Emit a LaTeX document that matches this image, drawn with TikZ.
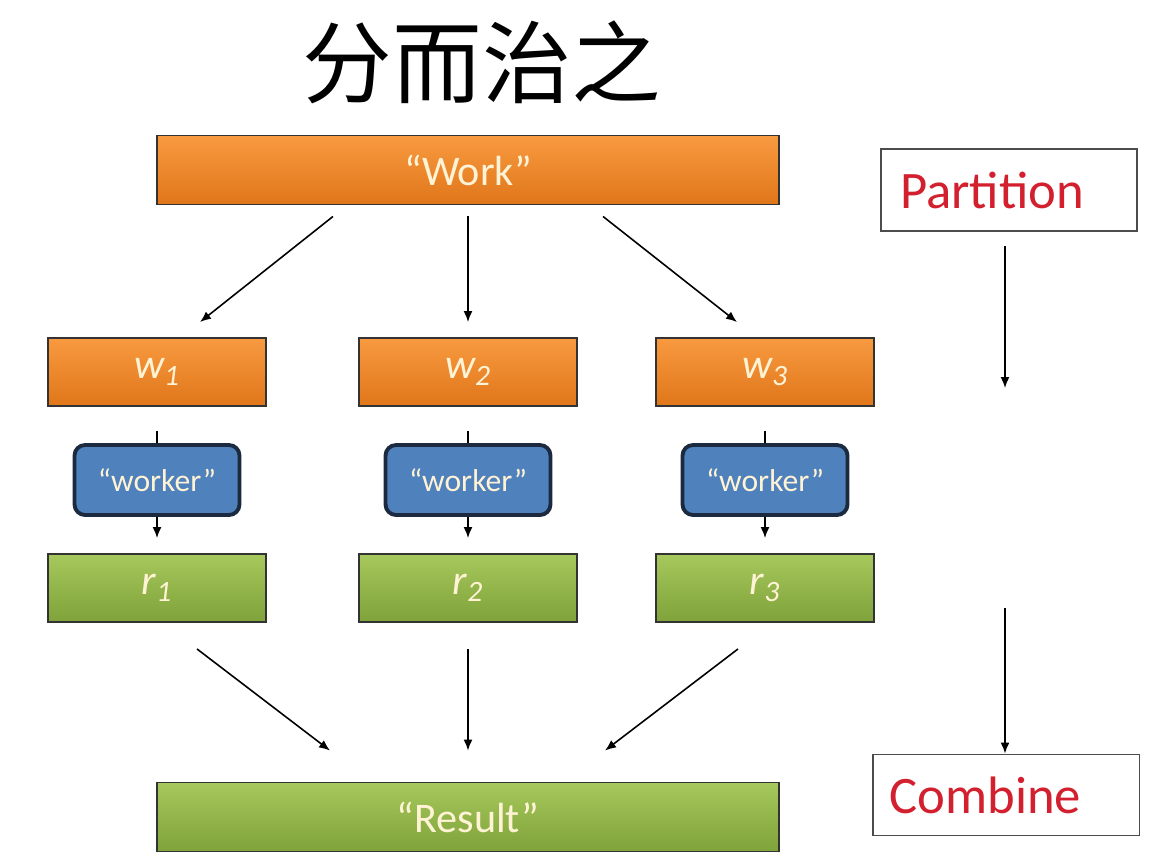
\documentclass[tikz,border=0pt]{standalone}
\usepackage{fontspec}
\setmainfont{Carlito}
\newfontfamily\cjk{Noto Sans CJK SC}
\usetikzlibrary{arrows.meta}
\definecolor{worktop}{HTML}{F89A40}
\definecolor{workbot}{HTML}{E0761A}
\definecolor{restop}{HTML}{A6C85C}
\definecolor{resbot}{HTML}{7FA23A}
\definecolor{workerblue}{HTML}{4F81BD}
\definecolor{workerline}{HTML}{1C2A40}
\definecolor{steptext}{HTML}{D3202E}
\definecolor{boxtext}{HTML}{FFF3D6}
\begin{document}
\begin{tikzpicture}[x=0.02cm,y=-0.02cm,
    box/.style={draw=black!80, line width=1.1pt, text=boxtext},
    workbox/.style={box, top color=worktop, bottom color=workbot},
    resbox/.style={box, top color=restop, bottom color=resbot},
    bigbox/.style={minimum width=12.46cm, minimum height=1.38cm, font=\fontsize{24}{24}\selectfont},
    colbox/.style={minimum width=4.36cm, minimum height=1.36cm, font=\fontsize{24}{24}\selectfont\itshape},
    workerbox/.style={draw=workerline, line width=2.2pt, rounded corners=6pt, fill=workerblue,
        text=boxtext, minimum width=3.3cm, minimum height=1.4cm, font=\fontsize{18}{18}\selectfont},
    stepbox/.style={draw=black!70, line width=1.1pt, text=steptext, align=left,
        font=\fontsize{30}{30}\selectfont},
    arr/.style={-{Latex[length=2.2mm, width=1.8mm]}, line width=0.9pt}
]
    \useasboundingbox (0,0) rectangle (1156,865);

    % title
    \node (title) at (482,62) {\cjk\fontsize{51}{51}\selectfont 分而治之};

    % work and result
    \node[workbox, bigbox] (work) at (468,170) {“Work”};
    \node[resbox, bigbox] (result) at (468,817) {“Result”};

    % three columns
    \foreach \i/\x in {1/157, 2/468, 3/765} {
        \node[workbox, colbox] (w\i) at (\x,372) {w\textsubscript{\i}};
        \node[workerbox] (worker\i) at (\x,480) {“worker”};
        \node[resbox, colbox] (r\i) at (\x,588) {r\textsubscript{\i}};
        \draw[line width=0.9pt] ([yshift=-24*0.02cm]w\i.south) -- (worker\i.north);
        \draw[arr] (worker\i.south) -- ([yshift=15*0.02cm]r\i.north);
    }

    % partition
    \draw[arr] ([xshift=-135*0.02cm, yshift=-11*0.02cm]work.south) -- ([xshift=43*0.02cm, yshift=15*0.02cm]w1.north);
    \draw[arr] ([yshift=-11*0.02cm]work.south) -- ([yshift=15*0.02cm]w2.north);
    \draw[arr] ([xshift=135*0.02cm, yshift=-11*0.02cm]work.south) -- ([xshift=-28*0.02cm, yshift=15*0.02cm]w3.north);

    % combine
    \draw[arr] ([xshift=40*0.02cm, yshift=-26*0.02cm]r1.south) -- ([xshift=-138*0.02cm, yshift=31*0.02cm]result.north);
    \draw[arr] ([yshift=-26*0.02cm]r2.south) -- ([yshift=31*0.02cm]result.north);
    \draw[arr] ([xshift=-27*0.02cm, yshift=-26*0.02cm]r3.south) -- ([xshift=137*0.02cm, yshift=31*0.02cm]result.north);

    % steps on the right
    \node[stepbox, minimum width=5.12cm, minimum height=1.64cm, inner xsep=0.38cm, text width=4.36cm] (partition) at (1009,190) {Partition};
    \node[stepbox, minimum width=5.34cm, minimum height=1.62cm, inner xsep=0.34cm, text width=4.66cm] (combine) at (1006,795) {Combine};
    \coordinate (mid1) at (1005,388);
    \coordinate (mid2) at (1005,608);
    \draw[arr] ([xshift=-4*0.02cm, yshift=-14*0.02cm]partition.south) -- (mid1);
    \draw[arr] (mid2) -- (combine.north -| mid2);
\end{tikzpicture}
\end{document}
